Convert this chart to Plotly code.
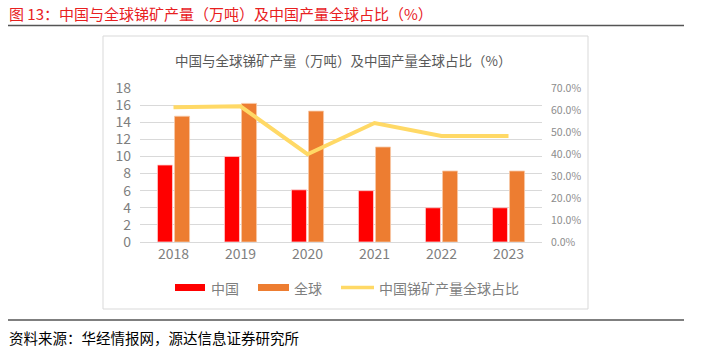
import plotly.graph_objects as go

years = ["2018", "2019", "2020", "2021", "2022", "2023"]
china = [9.0, 10.0, 6.1, 6.0, 4.0, 4.0]
world = [14.7, 16.2, 15.3, 11.1, 8.3, 8.3]
share = [61.2, 61.7, 39.9, 54.1, 48.2, 48.2]

W, H = 702, 353
L, R, T, B = 140, 542, 88, 242
FONT = "Noto Sans CJK SC"

def px(x):
    return (x - L) / (R - L)

def py(y):
    return (B - y) / (B - T)

fig = go.Figure()
fig.add_trace(go.Bar(x=years, y=china, name="中国", marker=dict(color="#FF0000", line=dict(color="#ffd0d0", width=0.8)),
                     showlegend=False))
fig.add_trace(go.Bar(x=years, y=world, name="全球", marker=dict(color="#ED7D31", line=dict(color="#f7c9a8", width=0.8)),
                     showlegend=False))
fig.add_trace(go.Scatter(x=years, y=share, name="中国锑矿产量全球占比", yaxis="y2", mode="lines",
                         line=dict(color="#FFD966", width=4), showlegend=False))

shapes = [
    dict(type="line", xref="paper", yref="paper", x0=px(8), x1=px(684), y0=py(25.5), y1=py(25.5),
         line=dict(color="#555555", width=1.5)),
    dict(type="line", xref="paper", yref="paper", x0=px(8), x1=px(684), y0=py(320), y1=py(320),
         line=dict(color="#555555", width=1.5)),
    dict(type="rect", xref="paper", yref="paper", x0=px(103), x1=px(588), y0=py(36), y1=py(309),
         line=dict(color="#d9d9d9", width=1), layer="below"),
    dict(type="rect", xref="paper", yref="paper", x0=px(175), x1=px(205), y0=py(291), y1=py(284),
         fillcolor="#FF0000", line=dict(width=0)),
    dict(type="rect", xref="paper", yref="paper", x0=px(258), x1=px(289), y0=py(291), y1=py(284),
         fillcolor="#ED7D31", line=dict(width=0)),
    dict(type="line", xref="paper", yref="paper", x0=px(341), x1=px(374), y0=py(287.5), y1=py(287.5),
         line=dict(color="#FFD966", width=3.5)),
]

annotations = [
    dict(text="图 13：中国与全球锑矿产量（万吨）及中国产量全球占比（%）", xref="paper", yref="paper",
         x=px(7), y=py(14), xanchor="left", yanchor="middle", showarrow=False,
         font=dict(family=FONT, size=15, color="#E8201F")),
    dict(text="资料来源：华经情报网，源达信息证券研究所", xref="paper", yref="paper",
         x=px(7), y=py(337), xanchor="left", yanchor="middle", showarrow=False,
         font=dict(family=FONT, size=14.5, color="#000000")),
    dict(text="中国与全球锑矿产量（万吨）及中国产量全球占比（%）", xref="paper", yref="paper",
         x=px(343), y=py(60), xanchor="center", yanchor="middle", showarrow=False,
         font=dict(family=FONT, size=13.5, color="#595959")),
    dict(text="中国", xref="paper", yref="paper", x=px(209), y=py(288), xanchor="left", yanchor="middle",
         showarrow=False, font=dict(family=FONT, size=14, color="#7f7f7f")),
    dict(text="全球", xref="paper", yref="paper", x=px(292), y=py(288), xanchor="left", yanchor="middle",
         showarrow=False, font=dict(family=FONT, size=14, color="#7f7f7f")),
    dict(text="中国锑矿产量全球占比", xref="paper", yref="paper", x=px(377), y=py(288), xanchor="left",
         yanchor="middle", showarrow=False, font=dict(family=FONT, size=14, color="#7f7f7f")),
]

fig.update_layout(
    width=W, height=H,
    margin=dict(l=L, r=W - R, t=T, b=H - B, autoexpand=False),
    paper_bgcolor="white", plot_bgcolor="white",
    barmode="group", bargap=0.49, bargroupgap=0.12,
    showlegend=False,
    shapes=shapes, annotations=annotations,
    font=dict(family=FONT, color="#7f7f7f"),
    xaxis=dict(showgrid=False, showline=False, ticks="", tickfont=dict(size=14, color="#7f7f7f"),
               ticklabelstandoff=2),
    yaxis=dict(range=[0, 18], dtick=2, showgrid=True, gridcolor="#d9d9d9", gridwidth=1,
               zeroline=True, zerolinecolor="#d9d9d9", zerolinewidth=1,
               tickfont=dict(size=14, color="#7f7f7f"), ticklabelstandoff=8),
    yaxis2=dict(range=[0, 70], dtick=10, overlaying="y", side="right", showgrid=False, zeroline=False,
                tickformat=".1f", ticksuffix="%", tickfont=dict(size=10.5, color="#8c8c8c"),
                ticklabelstandoff=8),
)

fig.write_html("out.html")
